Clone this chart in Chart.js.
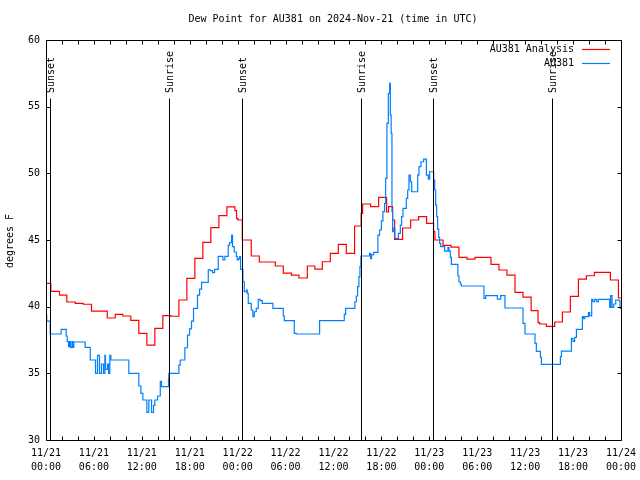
<!DOCTYPE html>
<html><head><meta charset="utf-8">
<script src="https://cdn.jsdelivr.net/npm/chart.js@4/dist/chart.umd.min.js"></script>
<style>html,body{margin:0;padding:0;background:#fff}canvas{display:block}</style>
</head><body>
<canvas id="c" width="640" height="480"></canvas>
<script>
// Hours since 11/21 00:00 UTC
const analysisHours = [0,0.60,1.69,2.61,3.66,4.66,5.70,7.67,8.67,9.62,10.62,11.62,12.63,13.63,14.63,15.63,16.64,17.64,18.64,19.64,20.64,21.65,22.65,23.65,23.86,24.03,24.58,25.70,26.71,28.71,29.71,30.72,31.67,32.72,33.67,34.60,35.60,36.60,37.60,38.64,39.46,39.65,40.65,41.65,42.65,42.90,43.40,43.65,44.65,45.65,46.66,47.66,48.53,48.70,49.71,50.71,51.71,52.71,53.71,55.72,56.72,57.72,58.73,59.73,60.75,61.61,61.82,62.66,63.70,64.66,65.66,66.67,67.67,68.67,70.67,71.68,72];
const analysisValues = [41.75,41.15,40.87,40.35,40.25,40.18,39.67,39.15,39.42,39.3,38.97,38.0,37.12,38.37,39.33,39.28,40.5,42.12,43.62,44.82,45.93,46.83,47.48,47.2,46.6,46.5,45.0,43.8,43.35,43.05,42.52,42.37,42.15,43.05,42.82,43.37,44.0,44.67,44.0,46.05,47.0,47.7,47.5,48.2,47.1,47.5,46.5,45.05,45.9,46.5,46.75,46.25,45.63,45.0,44.6,44.47,43.7,43.57,43.7,43.17,42.75,42.37,41.07,40.72,39.7,38.8,38.7,38.52,38.85,39.6,40.77,42.07,42.32,42.57,42.0,40.65,40.65];

const obsHours = [0,0.09,0.53,1.90,2.53,2.66,2.82,2.94,3.07,3.26,3.38,3.48,4.91,5.54,6.20,6.45,6.70,6.95,7.20,7.37,7.45,7.70,7.83,7.99,8.12,10.37,11.62,11.88,12.13,12.63,12.88,13.22,13.47,13.63,13.97,14.31,14.47,15.34,15.38,16.64,16.81,17.39,17.72,17.97,18.22,18.47,18.97,19.23,19.48,20.32,20.57,20.86,21.11,21.57,22.15,22.40,22.82,22.99,23.24,23.36,23.57,23.83,23.95,24.11,24.24,24.36,24.65,24.83,25.08,25.20,25.33,25.70,25.90,26.08,26.33,26.58,26.83,27.08,28.41,29.71,29.84,31.09,31.34,34.26,37.35,37.52,38.68,38.86,39.02,39.18,39.31,39.43,40.52,40.65,40.77,41.02,41.56,41.77,41.99,42.19,42.40,42.53,42.69,42.87,43.03,43.12,43.22,43.32,43.40,43.49,43.69,44.12,44.37,44.53,44.70,45.12,45.29,45.45,45.62,45.79,46.54,46.70,46.95,47.29,47.63,47.88,48.04,48.54,48.67,48.79,48.92,49.04,49.17,49.29,49.42,49.92,50.33,50.46,50.63,50.76,51.58,51.71,51.88,52.01,54.84,55.05,56.52,56.93,57.47,59.73,59.98,61.23,61.40,61.91,62.03,64.41,64.54,65.79,65.99,66.20,66.42,67.17,67.29,67.46,67.92,68.08,68.33,68.49,68.71,68.96,69.17,70.59,70.71,70.88,71.09,71.34,71.75,71.87,72];
const obsValues = [39.35,38.92,37.95,38.3,37.8,37.38,37.0,37.38,36.95,37.38,36.95,37.35,36.95,36.0,35.0,36.35,35.0,35.7,35.0,36.35,35.3,35.7,35.0,36.35,36.0,35.0,34.05,33.5,33.0,32.07,33.0,32.07,32.6,33.0,33.3,34.4,34.0,34.6,35.0,35.62,36.0,36.92,37.87,38.33,38.92,39.87,40.87,41.32,41.82,42.77,42.7,42.55,42.8,43.77,43.5,43.77,44.62,44.8,45.37,44.5,44.1,43.77,43.5,43.6,43.75,42.8,41.87,41.12,41.25,41.0,40.25,39.75,39.25,39.62,39.87,40.55,40.45,40.25,39.87,39.3,38.95,38.0,37.95,38.95,39.42,39.87,40.37,40.8,41.5,42.25,43.0,43.8,44.0,43.6,43.9,44.07,45.37,45.75,46.43,47.13,47.75,49.62,53.75,56.0,56.75,54.37,53.0,47.13,45.62,45.9,45.12,45.5,46.12,46.75,47.37,48.12,48.75,49.87,49.37,48.62,49.87,50.5,50.87,51.07,49.87,49.57,50.12,49.5,48.75,47.62,46.75,45.82,45.2,44.75,44.5,44.17,44.45,44.17,43.7,43.17,42.3,41.87,41.7,41.55,40.62,40.83,40.57,40.83,39.9,38.75,37.95,37.25,36.65,36.2,35.67,36.25,36.67,37.62,37.4,37.7,38.3,39.25,39.1,39.25,39.55,39.3,40.55,40.37,40.55,40.37,40.55,39.95,40.83,39.95,40.2,40.5,40.45,39.87,39.87];

const sunHours = [0.53,15.38,24.53,39.43,48.45,63.36];
const sunLabels = ['Sunset','Sunrise','Sunset','Sunrise','Sunset','Sunrise'];

const xTickHours = [0,6,12,18,24,30,36,42,48,54,60,66,72];
const xTickDates = ['11/21','11/21','11/21','11/21','11/22','11/22','11/22','11/22','11/23','11/23','11/23','11/23','11/24'];
const xTickTimes = ['00:00','06:00','12:00','18:00','00:00','06:00','12:00','18:00','00:00','06:00','12:00','18:00','00:00'];
const yTicks = [30,35,40,45,50,55,60];

const seriesNames = ['AU381 Analysis','AU381'];
const titleText = 'Dew Point for AU381 on 2024-Nov-21 (time in UTC)';
const yTitle = 'degrees F';

const FONT = "'DejaVu Sans Mono','Liberation Mono',monospace";
const RED = '#ff0000', BLUE = '#0080ff';

const decor = {
  id: 'decor',
  afterDraw(chart) {
    const {ctx, chartArea: a, scales: {x, y}} = chart;
    ctx.save();
    ctx.strokeStyle = '#000';
    ctx.fillStyle = '#000';
    ctx.lineWidth = 1;
    ctx.font = '10px ' + FONT;
    const L = Math.round(a.left) + 0.5, R = Math.round(a.right) + 0.5;
    const T = Math.round(a.top) + 0.5, B = Math.round(a.bottom) + 0.5;
    // sunrise / sunset markers
    const lineTop = Math.round(a.top) + 58.5;
    sunHours.forEach((h, i) => {
      const px = Math.round(x.getPixelForValue(h)) + 0.5;
      ctx.beginPath(); ctx.moveTo(px, B); ctx.lineTo(px, lineTop); ctx.stroke();
      ctx.save();
      ctx.translate(px + 1, lineTop - 5.5);
      ctx.rotate(-Math.PI / 2);
      ctx.textAlign = 'left'; ctx.textBaseline = 'middle';
      ctx.fillText(sunLabels[i], 0, 0);
      ctx.restore();
    });
    // box
    ctx.beginPath();
    ctx.rect(L, T, R - L, B - T);
    ctx.stroke();
    // ticks (inward, mirrored)
    ctx.beginPath();
    for (let h = x.min; h <= x.max; h += 2) {
      const px = Math.round(x.getPixelForValue(h)) + 0.5;
      ctx.moveTo(px, B); ctx.lineTo(px, B - 4);
      ctx.moveTo(px, T); ctx.lineTo(px, T + 4);
    }
    yTicks.forEach(v => {
      const py = Math.round(y.getPixelForValue(v)) + 0.5;
      ctx.moveTo(L, py); ctx.lineTo(L + 4, py);
      ctx.moveTo(R, py); ctx.lineTo(R - 4, py);
    });
    ctx.stroke();
    // title
    ctx.textAlign = 'center'; ctx.textBaseline = 'middle';
    ctx.fillText(titleText, 333, 19);
    // y axis title
    ctx.save();
    ctx.translate(10, 241);
    ctx.rotate(-Math.PI / 2);
    ctx.fillText(yTitle, 0, 0);
    ctx.restore();
    // legend
    const cols = [RED, BLUE];
    seriesNames.forEach((n, i) => {
      const ly = 49 + i * 14;
      ctx.textAlign = 'right'; ctx.fillStyle = '#000';
      ctx.fillText(n, 574, ly);
      ctx.strokeStyle = cols[i];
      ctx.lineWidth = 1.2;
      ctx.beginPath(); ctx.moveTo(582, ly + 0.5); ctx.lineTo(610, ly + 0.5); ctx.stroke();
    });
    ctx.restore();
  }
};

new Chart(document.getElementById('c'), {
  type: 'line',
  data: {
    datasets: [
      {
        label: seriesNames[1],
        data: obsHours.map((h, i) => ({x: h, y: obsValues[i]})),
        borderColor: BLUE, borderWidth: 1.2, pointRadius: 0, stepped: true, fill: false, order: 0
      },
      {
        label: seriesNames[0],
        data: analysisHours.map((h, i) => ({x: h, y: analysisValues[i]})),
        borderColor: RED, borderWidth: 1.2, pointRadius: 0, stepped: true, fill: false, order: 1
      }
    ]
  },
  options: {
    responsive: false,
    animation: false,
    devicePixelRatio: 1,
    layout: {padding: {top: 40, right: 19, left: 0, bottom: 0}},
    plugins: {legend: {display: false}, tooltip: {enabled: false}, title: {display: false}},
    scales: {
      x: {
        type: 'linear', min: 0, max: 72,
        afterBuildTicks: s => { s.ticks = xTickHours.map(v => ({value: v})); },
        afterFit: s => { s.height = 40; s.paddingLeft = 0; s.paddingRight = 0; },
        grid: {display: false, drawTicks: false},
        border: {display: false},
        ticks: {
          autoSkip: false, maxRotation: 0, padding: 6,
          color: '#000', font: {family: FONT, size: 10, lineHeight: 1.4},
          callback: (v) => { const i = xTickHours.indexOf(v); return i < 0 ? '' : [xTickDates[i], xTickTimes[i]]; }
        }
      },
      y: {
        type: 'linear', min: 30, max: 60,
        afterBuildTicks: s => { s.ticks = yTicks.map(v => ({value: v})); },
        afterFit: s => { s.width = 46; s.paddingTop = 0; s.paddingBottom = 0; },
        grid: {display: false, drawTicks: false},
        border: {display: false},
        ticks: {padding: 6, color: '#000', font: {family: FONT, size: 10}}
      }
    }
  },
  plugins: [decor]
});
</script>
</body></html>
